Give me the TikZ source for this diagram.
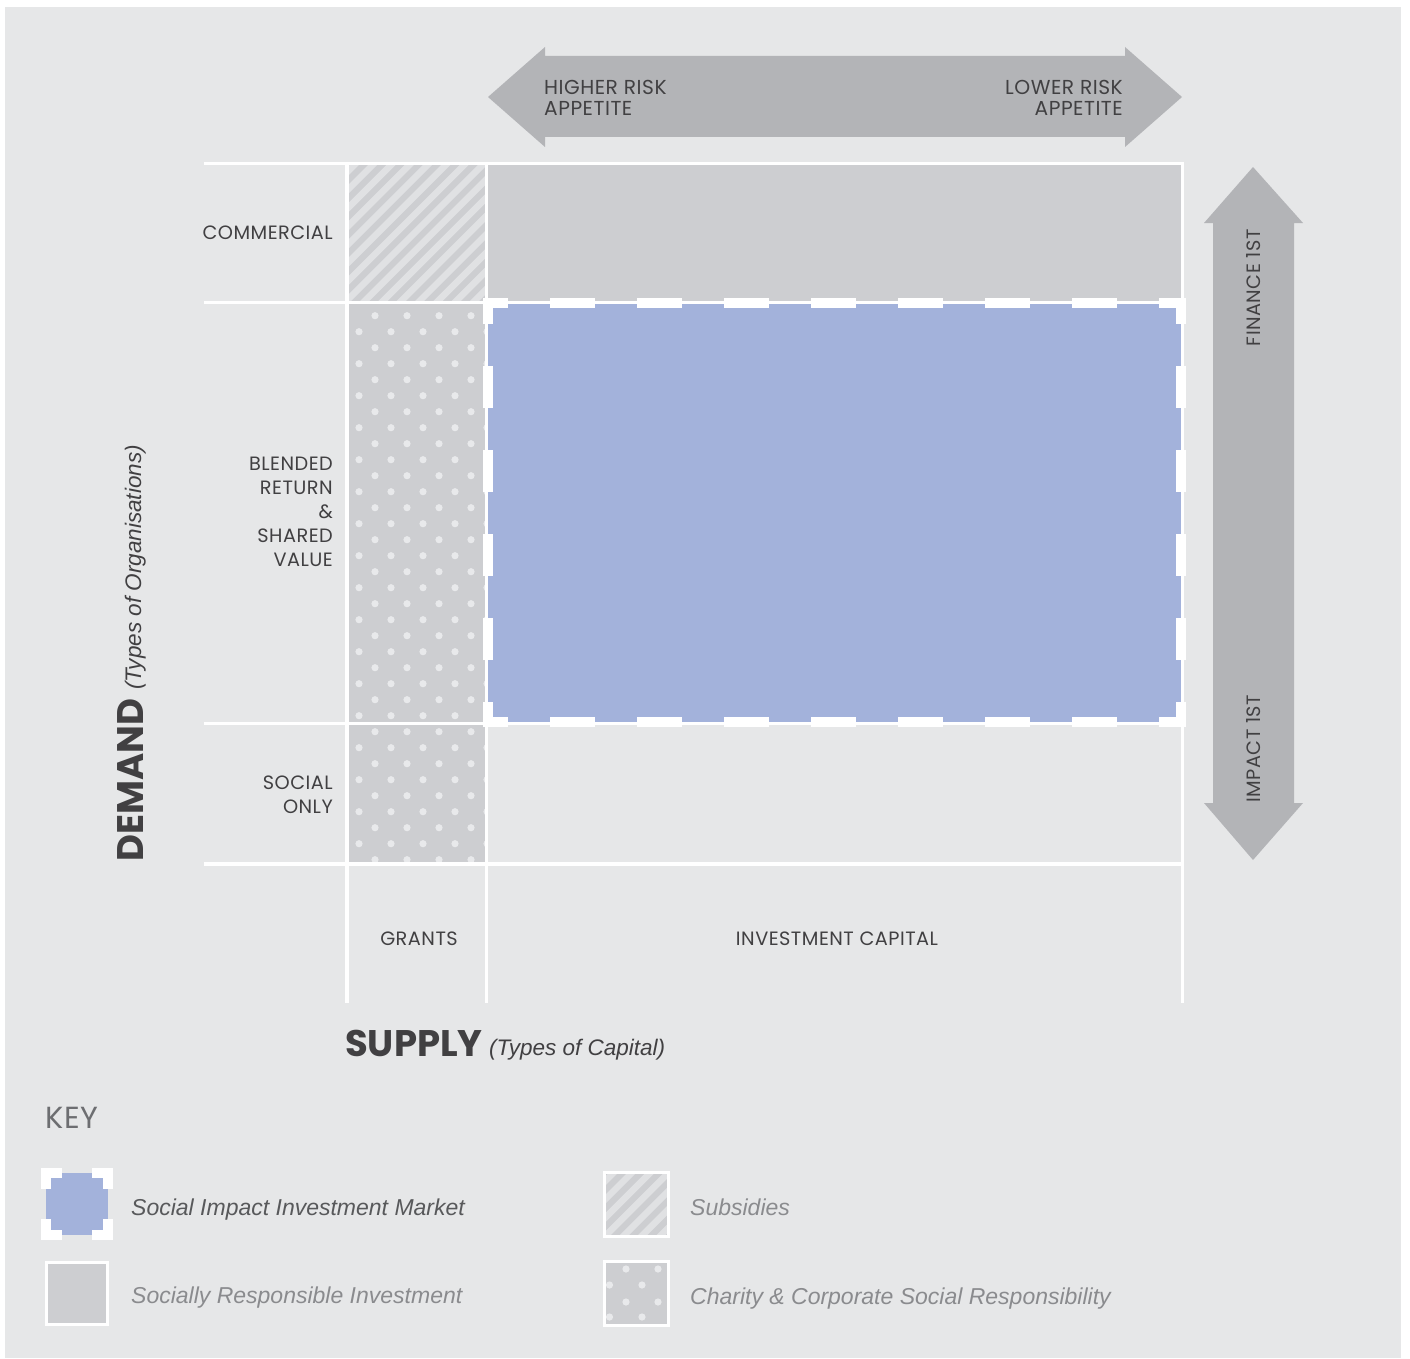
\documentclass[tikz,border=0pt]{standalone}
\usepackage{fontspec}
\setmainfont{Poppins}
\newfontfamily\capsfont[LetterSpace=2.5]{Poppins}
\newfontfamily\helv{Liberation Sans}
\definecolor{bg}{HTML}{E6E7E8}
\definecolor{cellgrey}{HTML}{CDCED1}
\definecolor{stripec}{HTML}{E0E1E3}
\definecolor{dotc}{HTML}{E8E9EB}
\definecolor{simblue}{HTML}{A3B2DB}
\definecolor{arrowc}{HTML}{B3B4B7}
\definecolor{txt}{HTML}{414042}
\definecolor{keydark}{HTML}{58595B}
\definecolor{keylight}{HTML}{8A8B8E}
\definecolor{keyc}{HTML}{6D6E71}
\begin{document}
\begin{tikzpicture}[x=1pt,y=-1pt,
  lbl/.style={font=\capsfont\fontsize{19.3}{24}\selectfont, text=txt, inner sep=0pt},
  arrlbl/.style={font=\capsfont\fontsize{20.2}{21}\selectfont, text=txt, inner sep=0pt},
  axisbig/.style={font=\fontsize{37}{42}\selectfont\bfseries, text=txt, inner sep=0pt},
  axissmall/.style={font=\helv\itshape\fontsize{22.5}{26}\selectfont, text=txt, inner sep=0pt},
  keytxt/.style={font=\helv\itshape\fontsize{23}{26}\selectfont, inner sep=0pt, anchor=base west},
  gridline/.style={white, line width=3},
  gridthick/.style={white, line width=4.8},
  simdashh/.style={white, line width=10, dash pattern=on 45 off 42, dash phase=20},
  simdashv/.style={white, line width=10, dash pattern=on 42 off 42, dash phase=16},
  keydash/.style={white, line width=10, dash pattern=on 42 off 30, dash phase=21},
  stripe/.style={stripec, line width=6.5},
  dot/.style={dotc}
]
\useasboundingbox (0,0) rectangle (1410,1359);
\fill[white] (0,0) rectangle (1410,1359);
\fill[bg] (5,7) rectangle (1401,1358);

% top double arrow
\fill[arrowc] (488,97) -- (545,47) -- (545,56) -- (1125,56) -- (1125,47) -- (1182,97)
  -- (1125,147) -- (1125,137) -- (545,137) -- (545,147) -- cycle;
% right double arrow
\fill[arrowc] (1253,167) -- (1303,223) -- (1294,223) -- (1294,803) -- (1303,803) -- (1253,860)
  -- (1204,803) -- (1213,803) -- (1213,223) -- (1204,223) -- cycle;

% commercial cell
\fill[cellgrey] (486,164) rectangle (1182,302);
% subsidies (hatched)
\fill[cellgrey] (347,164) rectangle (486,302);
\begin{scope}
  \clip (347,164) rectangle (486,302);
  \foreach \i in {0,...,17} \draw[stripe] ({195+18.3*\i},306) -- ++(150,-150);
\end{scope}
% charity (dotted)
\fill[cellgrey] (347,302) rectangle (486,864);
\begin{scope}
  \clip (349,303.5) rectangle (485,862);
  \foreach \k in {0,...,17} {
    \foreach \j in {0,...,3} \fill[dot] ({375+32*\j},{315.7+32*\k}) circle[radius=3.6pt];
  }
  \foreach \k in {-1,...,16} {
    \foreach \j in {0,...,4} \fill[dot] ({359+32*\j},{331.7+32*\k}) circle[radius=3.6pt];
  }
\end{scope}
% social impact investment market
\fill[simblue] (486,302) rectangle (1182,723);

% grid lines
\draw[gridline] (204,164) -- (1183,164);
\draw[gridline] (204,302) -- (1183,302);
\draw[gridline] (204,723) -- (1183,723);
\draw[gridthick] (204,864) -- (1183,864);
\draw[gridthick] (347,162.5) -- (347,1003);
\draw[gridline] (486,162.5) -- (486,1003);
\draw[gridline] (1182,162.5) -- (1182,1003);

% dashed border of market
\draw[simdashh] (483,303) -- (1186,303);
\draw[simdashh] (483,722) -- (1186,722);
\draw[simdashv] (488,298) -- (488,727);
\draw[simdashv] (1181,298) -- (1181,727);

% arrow labels
\node[arrlbl, anchor=west, align=left] (hr) at (544,97.5) {HIGHER RISK\\APPETITE};
\node[arrlbl, anchor=east, align=right] (lr) at (1123,97.5) {LOWER RISK\\APPETITE};
\node[lbl, rotate=90, anchor=east] (fin) at (1254,229) {FINANCE 1ST};
\node[lbl, rotate=90, anchor=west] (imp) at (1254,803) {IMPACT 1ST};

% row labels
\node[lbl, anchor=east] (com) at (333,233) {COMMERCIAL};
\node[lbl, anchor=east, align=right] (blend) at (333,512) {BLENDED\\RETURN\\\&\\SHARED\\VALUE};
\node[lbl, anchor=east, align=right] (soc) at (333,795) {SOCIAL\\ONLY};
% column labels
\node[lbl] (gr) at (419,939) {GRANTS};
\node[lbl] (inv) at (837,939) {INVESTMENT CAPITAL};

% axis titles
\node[axisbig, anchor=base west] (sup) at (345,1056) {SUPPLY};
\node[axissmall, anchor=base west] (supt) at (489,1055) {(Types of Capital)};
\node[axisbig, anchor=base west, rotate=90] (dem) at (143,862) {DEMAND};
\node[axissmall, anchor=base west, rotate=90] (demt) at (141,690) {(Types of Organisations)};

% key
\node[font=\capsfont\fontsize{30.5}{32}\selectfont, text=keyc, inner sep=0pt, anchor=base west] (key) at (45,1128) {KEY};

% key: market
\fill[simblue] (46,1173) rectangle (108,1235);
\draw[keydash] (41,1173) -- (113,1173);
\draw[keydash] (41,1235) -- (113,1235);
\draw[keydash] (46,1168) -- (46,1240);
\draw[keydash] (108,1168) -- (108,1240);
\node[keytxt, text=keydark] (k1) at (131,1215.5) {Social Impact Investment Market};

% key: SRI
\fill[cellgrey] (46,1262) rectangle (107,1324);
\draw[white, line width=3] (46,1262) rectangle (107,1324);
\node[keytxt, text=keylight] (k2) at (131,1303) {Socially Responsible Investment};

% key: subsidies
\fill[cellgrey] (604,1172) rectangle (668,1236);
\begin{scope}
  \clip (604,1172) rectangle (668,1236);
  \foreach \i in {0,...,9} \draw[stripe] ({528+18.3*\i},1240) -- ++(75,-75);
\end{scope}
\draw[white, line width=3] (604,1172) rectangle (668,1236);
\node[keytxt, text=keylight] (k3) at (690,1215.5) {Subsidies};

% key: charity
\fill[cellgrey] (604,1261) rectangle (668,1325);
\begin{scope}
  \clip (604,1261) rectangle (668,1325);
  \foreach \x/\y in {626/1269, 658/1269, 609.5/1285, 642/1285, 626/1302, 658/1302, 609.5/1317, 642/1317}
    \fill[dot] (\x,\y) circle[radius=3.6pt];
\end{scope}
\draw[white, line width=3] (604,1261) rectangle (668,1325);
\node[keytxt, text=keylight] (k4) at (690,1304) {Charity \& Corporate Social Responsibility};
\end{tikzpicture}
\end{document}
